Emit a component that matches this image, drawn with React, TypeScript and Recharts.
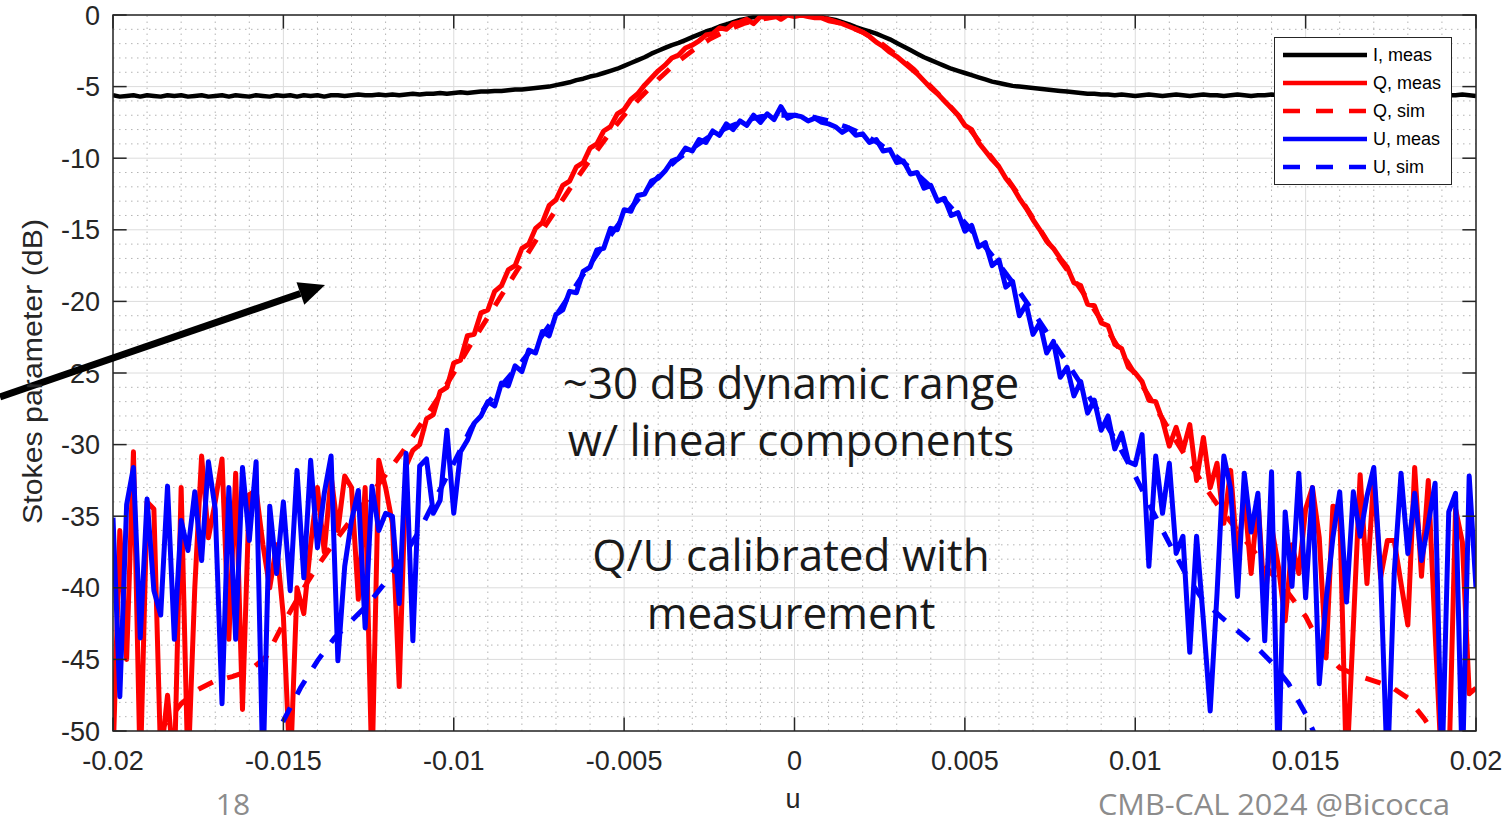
import { CartesianGrid, Line, LineChart, ReferenceArea, ReferenceLine, XAxis, YAxis } from 'recharts'

// u axis ticks and dB ticks
const X_TICKS = [-0.02, -0.015, -0.01, -0.005, 0, 0.005, 0.01, 0.015, 0.02]
const Y_TICKS = [-50, -45, -40, -35, -30, -25, -20, -15, -10, -5, 0]
const X_MINOR = Array.from({ length: 39 }, (_, i) => (i - 19) / 1000).filter((v) => Math.round(v * 1000) % 5 !== 0)
const Y_MINOR = Array.from({ length: 49 }, (_, i) => -(i + 1)).filter((v) => v % 5 !== 0)

// measured cuts, u = -0.02 .. 0.02 every 0.0002 (201 samples)
const I_MEAS = [
  -5.6, -5.7, -5.65, -5.6, -5.7, -5.6, -5.65, -5.7, -5.6, -5.65,
  -5.6, -5.7, -5.65, -5.6, -5.7, -5.65, -5.6, -5.7, -5.6, -5.65,
  -5.7, -5.6, -5.65, -5.7, -5.6, -5.65, -5.6, -5.7, -5.6, -5.65,
  -5.6, -5.7, -5.6, -5.6, -5.65, -5.6, -5.55, -5.6, -5.6, -5.55,
  -5.6, -5.55, -5.6, -5.55, -5.5, -5.55, -5.5, -5.5, -5.45, -5.5,
  -5.45, -5.4, -5.45, -5.4, -5.35, -5.35, -5.3, -5.3, -5.25, -5.2,
  -5.2, -5.15, -5.1, -5.05, -5.0, -4.9, -4.8, -4.7, -4.55, -4.45,
  -4.3, -4.2, -4.05, -3.9, -3.75, -3.55, -3.35, -3.15, -2.95, -2.7,
  -2.5, -2.3, -2.1, -1.95, -1.75, -1.55, -1.35, -1.15, -1.0, -0.8,
  -0.65, -0.5, -0.35, -0.25, -0.15, -0.1, -0.05, 0, 0, 0,
  0, -0.02, -0.03, -0.05, -0.15, -0.25, -0.35, -0.5, -0.65, -0.85,
  -1.0, -1.15, -1.3, -1.5, -1.7, -1.95, -2.2, -2.45, -2.7, -2.95,
  -3.15, -3.35, -3.55, -3.75, -3.9, -4.05, -4.2, -4.35, -4.5, -4.65,
  -4.75, -4.85, -4.95, -5.0, -5.05, -5.1, -5.15, -5.2, -5.25, -5.3,
  -5.35, -5.4, -5.45, -5.5, -5.5, -5.55, -5.55, -5.6, -5.55, -5.6,
  -5.65, -5.6, -5.55, -5.6, -5.65, -5.6, -5.55, -5.6, -5.65, -5.6,
  -5.55, -5.6, -5.6, -5.65, -5.6, -5.55, -5.6, -5.65, -5.6, -5.6,
  -5.55, -5.6, -5.65, -5.6, -5.55, -5.6, -5.6, -5.65, -5.6, -5.55,
  -5.6, -5.65, -5.6, -5.6, -5.55, -5.6, -5.65, -5.6, -5.55, -5.6,
  -5.6, -5.65, -5.6, -5.55, -5.6, -5.65, -5.6, -5.6, -5.55, -5.6,
  -5.65,
]

const Q_MEAS = [
  -52, -36, -45, -30.5, -53, -34, -34.5, -52, -47.5, -53,
  -33, -53, -40, -30.8, -36.5, -34, -31, -43.6, -32, -48.5,
  -33.5, -33.2, -37, -40, -37, -42, -53, -40, -41.8, -37,
  -33, -37.5, -32.2, -36, -32.2, -33, -40.8, -33, -53, -31.1,
  -33, -35.5, -46.9, -31.5, -30.4, -30.0, -28.2, -27.9, -26.3, -26.0,
  -24.3, -24.1, -22.4, -22.3, -20.8, -20.6, -19.3, -18.9, -17.8, -17.5,
  -16.3, -16.0, -14.9, -14.5, -13.3, -12.9, -11.9, -11.6, -10.6, -10.3,
  -9.3, -9.0, -8.1, -7.8, -6.9, -6.6, -5.9, -5.5, -4.9, -4.4,
  -3.9, -3.5, -3.0, -2.8, -2.3, -2.1, -1.8, -1.4, -1.3, -0.9,
  -1.0, -0.6, -0.5, -0.3, -0.6, -0.1, -0.2, 0, -0.3, 0,
  -0.1, 0, -0.1, -0.2, -0.2, -0.4, -0.5, -0.6, -0.8, -1.0,
  -1.2, -1.5, -1.9, -2.2, -2.6, -2.9, -3.3, -3.7, -4.1, -4.6,
  -5.1, -5.5, -6.0, -6.5, -7.0, -7.7, -8.0, -8.9, -9.5, -10.1,
  -10.6, -11.4, -12.0, -12.8, -13.5, -14.3, -15.0, -15.8, -16.3, -17.0,
  -17.6, -18.7, -18.9, -20.2, -20.3, -21.5, -21.7, -23.0, -23.3, -24.6,
  -25.0, -25.6, -26.9, -27.0, -28.3, -30.1, -28.8, -30.4, -28.6, -32.5,
  -29.5, -33.0, -31.3, -35.5, -31.8, -38.0, -33.5, -39.0, -33.8, -41.2,
  -35.7, -38.5, -42.3, -37.0, -39.0, -34.5, -33, -36.5, -44.9, -34.3,
  -34.5, -53, -42.7, -32.1, -39.7, -32.3, -39.3, -36.7, -36.7, -39.7,
  -42.6, -31.6, -39.2, -32.5, -43.1, -53, -53, -34.5, -36.8, -47.4,
  -47,
]

const U_MEAS = [
  -35.1, -47.6, -34.2, -31.6, -43.5, -33.8, -40.2, -41.9, -32.9, -43.6,
  -35.3, -37.4, -33.3, -38.1, -31.2, -34.5, -48.1, -33, -43.6, -31.6,
  -36.7, -31.2, -53, -34.3, -39, -34, -40.2, -31.8, -39.3, -31.1,
  -37.2, -33.4, -30.8, -45.1, -38.5, -35.3, -33.2, -42.8, -32.9, -36,
  -34.8, -35, -41.1, -30.6, -43.7, -31.5, -31.0, -34.8, -33.9, -29.0,
  -34.8, -30.5, -29.7, -28.5, -28.0, -27.0, -27.3, -25.7, -25.9, -24.5,
  -24.9, -23.4, -23.6, -22.1, -22.4, -20.9, -20.6, -19.3, -19.4, -17.9,
  -17.6, -16.4, -16.3, -14.9, -15.0, -13.6, -13.7, -12.6, -12.5, -11.6,
  -11.4, -10.9, -10.2, -10.0, -9.3, -9.5, -8.7, -8.9, -8.1, -8.4,
  -7.6, -8.0, -7.4, -7.7, -7.0, -7.5, -6.9, -7.3, -6.4, -7.2,
  -7.0, -7.1, -7.4, -7.2, -7.5, -7.6, -7.8, -8.2, -7.9, -8.4,
  -8.3, -8.9, -8.7, -9.5, -9.4, -10.3, -10.2, -11.1, -11.0, -12.1,
  -11.9, -13.0, -12.8, -14.0, -13.8, -15.1, -14.7, -16.2, -15.9, -17.5,
  -17.1, -19.0, -18.6, -21.0, -20.2, -22.3, -21.5, -23.6, -22.8, -25.3,
  -24.6, -26.6, -25.6, -27.8, -26.9, -29.0, -28.0, -30.3, -29.2, -31.2,
  -31.4, -29.3, -38.5, -30.8, -34.8, -31.3, -37.6, -36.4, -44.5, -36.4,
  -42.3, -48.6, -40.4, -30.8, -33.1, -40.6, -32.0, -36.1, -33.4, -43.7,
  -31.9, -53, -34.7, -39.9, -32, -40.7, -33, -46.7, -40.9, -36.5,
  -33.3, -41, -33.3, -36.4, -33.6, -31.6, -39, -53, -39, -32,
  -37.6, -33.4, -38.1, -35.5, -32.7, -53, -34.7, -33.4, -53, -32.2,
  -40,
]

// simulated cuts, u = -0.02 .. 0.02 every 0.0005 (81 samples)
const Q_SIM = [
  -56, -54, -51.8, -49.6, -48.1, -47.1, -46.5, -46.2, -45.8, -44.8,
  -42.5, -40.4, -38.5, -36.8, -35.2, -33.7, -32.1, -30.5, -28.7, -26.9,
  -25.0, -23.0, -21.1, -19.2, -17.3, -15.4, -13.6, -11.8, -10.1, -8.5,
  -7.0, -5.7, -4.5, -3.4, -2.5, -1.7, -1.1, -0.6, -0.3, -0.1,
  0, -0.05, -0.3, -0.7, -1.2, -1.9, -2.8, -3.8, -5.0, -6.2,
  -7.5, -9.1, -10.6, -12.3, -14.2, -16.1, -17.8, -19.5, -21.3, -23.2,
  -25.1, -27.0, -29.0, -30.9, -32.8, -34.5, -36.0, -37.5, -39.0, -40.4,
  -42.0, -44.3, -45.6, -46.1, -46.5, -46.9, -47.7, -49.2, -51, -53,
  -55,
]

const U_SIM = [
  -70, -68, -66, -64, -62, -60, -58, -56, -54, -51.8,
  -49.3, -47.0, -45.1, -43.5, -42.3, -41.1, -39.6, -37.9, -36.0, -33.6,
  -31.3, -28.9, -27.1, -25.6, -24.2, -22.7, -21.0, -19.2, -17.4, -15.7,
  -14.1, -12.6, -11.3, -10.2, -9.3, -8.5, -7.9, -7.4, -7.1, -7.0,
  -7.0, -7.1, -7.4, -7.8, -8.3, -9.0, -9.9, -10.9, -12.0, -13.2,
  -14.5, -15.9, -17.4, -19.0, -20.7, -22.5, -24.3, -26.1, -28.0, -30.0,
  -32.2, -34.6, -36.9, -39.1, -40.9, -42.0, -43.0, -44.0, -45.2, -46.7,
  -48.8, -51.5, -54, -56, -58, -60, -62, -64, -66, -68,
  -70,
]

type Row = { u: number; iMeas?: number; qMeas?: number; qSim?: number; uMeas?: number; uSim?: number }

// merge both sampling grids (u in units of 1e-4) into one table
const buildRows = (): Row[] => {
  const byK = new Map<number, Row>()
  const put = (k: number, key: Exclude<keyof Row, 'u'>, v: number) => {
    const row = byK.get(k) ?? { u: k / 10000 }
    row[key] = v
    byK.set(k, row)
  }
  I_MEAS.forEach((v, i) => put(-200 + 2 * i, 'iMeas', v))
  Q_MEAS.forEach((v, i) => put(-200 + 2 * i, 'qMeas', v))
  U_MEAS.forEach((v, i) => put(-200 + 2 * i, 'uMeas', v))
  Q_SIM.forEach((v, i) => put(-200 + 5 * i, 'qSim', v))
  U_SIM.forEach((v, i) => put(-200 + 5 * i, 'uSim', v))
  return [...byK.entries()].sort((a, b) => a[0] - b[0]).map(([, r]) => r)
}

const rows = buildRows()

const AXIS_FONT = "'Liberation Sans', Arial, sans-serif"
const SLIDE_FONT = "'Open Sans', 'Noto Sans', sans-serif"
const INK = '#262626'
const RED = '#ff0000'
const BLUE = '#0000ff'
const DASH = '16 15'

const LEGEND_ITEMS = [
  { label: 'I, meas', color: '#000000', dashed: false },
  { label: 'Q, meas', color: RED, dashed: false },
  { label: 'Q, sim', color: RED, dashed: true },
  { label: 'U, meas', color: BLUE, dashed: false },
  { label: 'U, sim', color: BLUE, dashed: true },
]

const LegendBox = () => (
  <div
    style={{
      position: 'absolute',
      left: 1274,
      top: 37,
      width: 178,
      height: 148,
      boxSizing: 'border-box',
      border: `1px solid ${INK}`,
      background: '#fff',
      paddingTop: 3,
      fontFamily: AXIS_FONT,
      fontSize: 18,
      color: '#000',
    }}
  >
    {LEGEND_ITEMS.map((item) => (
      <div key={item.label} style={{ height: 28, display: 'flex', alignItems: 'center' }}>
        <svg width={84} height={10} style={{ marginLeft: 8, marginRight: 6 }}>
          <line
            x1={0}
            x2={84}
            y1={5}
            y2={5}
            stroke={item.color}
            strokeWidth={4.5}
            strokeDasharray={item.dashed ? '17 16' : undefined}
          />
        </svg>
        <span>{item.label}</span>
      </div>
    ))}
  </div>
)

const Annotations = () => (
  <svg width={1504} height={824} style={{ position: 'absolute', left: 0, top: 0, pointerEvents: 'none' }}>
    <line x1={0} y1={397} x2={300.4} y2={293.5} stroke="#000" strokeWidth={7} />
    <polygon points="325,285 304.3,304.8 296.5,282.2" fill="#000" />
    <g fontFamily={SLIDE_FONT} fontSize={44} fill="#1a1a1a" textAnchor="middle">
      <text x={791} y={399}>~30 dB dynamic range</text>
      <text x={791} y={456}>w/ linear components</text>
      <text x={791} y={571}>Q/U calibrated with</text>
      <text x={791} y={629}>measurement</text>
    </g>
    <text
      transform="translate(42,371.5) rotate(-90)"
      textAnchor="middle"
      fontFamily={AXIS_FONT}
      fontSize={27}
      textLength={305}
      lengthAdjust="spacingAndGlyphs"
      fill={INK}
    >
      Stokes parameter (dB)
    </text>
    <text x={793} y={808} textAnchor="middle" fontFamily={AXIS_FONT} fontSize={27} fill={INK}>
      u
    </text>
    <g fontFamily={SLIDE_FONT} fontSize={30} fill="#8c8c8c">
      <text x={233} y={815} textAnchor="middle">
        18
      </text>
      <text x={1450} y={815} textAnchor="end" textLength={352} lengthAdjust="spacingAndGlyphs">
        CMB-CAL 2024 @Bicocca
      </text>
    </g>
  </svg>
)

export default function App() {
  return (
    <div style={{ position: 'absolute', left: 0, top: 0, width: 1504, height: 824, background: '#fff', overflow: 'hidden' }}>
      <LineChart width={1504} height={824} data={rows} margin={{ top: 15, right: 28, bottom: 53, left: 53 }}>
        <CartesianGrid stroke="#dcdcdc" strokeWidth={1} />
        {X_MINOR.map((v) => (
          <ReferenceLine key={`xm${v}`} x={v} stroke="#b4b4b4" strokeDasharray="1.5 4.5" zIndex={-50} />
        ))}
        {Y_MINOR.map((v) => (
          <ReferenceLine key={`ym${v}`} y={v} stroke="#b4b4b4" strokeDasharray="1.5 4.5" zIndex={-50} />
        ))}
        <XAxis
          dataKey="u"
          type="number"
          domain={[-0.02, 0.02]}
          ticks={X_TICKS}
          allowDataOverflow
          height={40}
          axisLine={false}
          tickLine={false}
          tickSize={0}
          tickMargin={20}
          tickFormatter={(v: number) => String(v)}
          tick={{ fill: INK, fontSize: 27, fontFamily: AXIS_FONT }}
          interval={0}
        />
        <YAxis
          type="number"
          domain={[-50, 0]}
          ticks={Y_TICKS}
          allowDataOverflow
          width={60}
          axisLine={false}
          tickLine={false}
          tickSize={0}
          tickMargin={13}
          tick={{ fill: INK, fontSize: 27, fontFamily: AXIS_FONT }}
          interval={0}
        />
        <Line dataKey="iMeas" stroke="#000000" strokeWidth={4.5} dot={false} activeDot={false} connectNulls isAnimationActive={false} strokeLinejoin="round" />
        <Line dataKey="qMeas" stroke={RED} strokeWidth={5} dot={false} activeDot={false} connectNulls isAnimationActive={false} strokeLinejoin="round" />
        <Line dataKey="qSim" stroke={RED} strokeWidth={5} strokeDasharray={DASH} dot={false} activeDot={false} connectNulls isAnimationActive={false} />
        <Line dataKey="uMeas" stroke={BLUE} strokeWidth={5} dot={false} activeDot={false} connectNulls isAnimationActive={false} strokeLinejoin="round" />
        <Line dataKey="uSim" stroke={BLUE} strokeWidth={5} strokeDasharray={DASH} dot={false} activeDot={false} connectNulls isAnimationActive={false} />
        <ReferenceArea x1={-0.02} x2={0.02} y1={-50} y2={0} fill="none" stroke={INK} strokeWidth={1.5} fillOpacity={0} zIndex={900} />
        {X_TICKS.map((t) => (
          <ReferenceLine key={`xb${t}`} segment={[{ x: t, y: -50 }, { x: t, y: -49.05 }]} stroke={INK} strokeWidth={1.5} zIndex={900} />
        ))}
        {X_TICKS.map((t) => (
          <ReferenceLine key={`xt${t}`} segment={[{ x: t, y: 0 }, { x: t, y: -0.95 }]} stroke={INK} strokeWidth={1.5} zIndex={900} />
        ))}
        {Y_TICKS.map((t) => (
          <ReferenceLine key={`yl${t}`} segment={[{ x: -0.02, y: t }, { x: -0.0196, y: t }]} stroke={INK} strokeWidth={1.5} zIndex={900} />
        ))}
        {Y_TICKS.map((t) => (
          <ReferenceLine key={`yr${t}`} segment={[{ x: 0.02, y: t }, { x: 0.0196, y: t }]} stroke={INK} strokeWidth={1.5} zIndex={900} />
        ))}
      </LineChart>
      <LegendBox />
      <Annotations />
    </div>
  )
}
